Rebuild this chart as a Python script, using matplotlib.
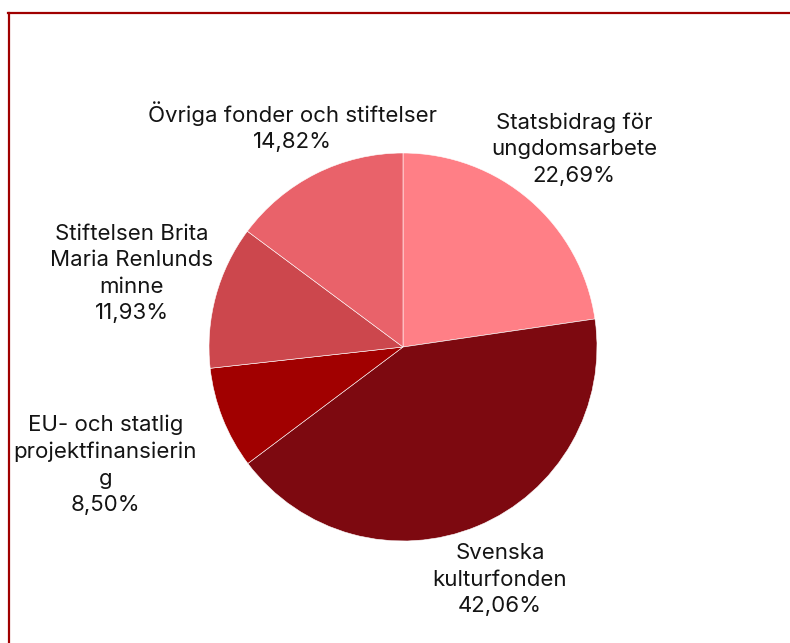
import matplotlib
matplotlib.use("Agg")
import numpy as np
import matplotlib.pyplot as plt
from matplotlib.lines import Line2D

plt.rcParams['font.family'] = ['Inter', 'DejaVu Sans']

# data
labels = ['Statsbidrag för\nungdomsarbete', 'Svenska\nkulturfonden',
          'EU- och statlig\nprojektfinansierin\ng', 'Stiftelsen Brita\nMaria Renlunds\nminne',
          'Övriga fonder och stiftelser']
values = [22.69, 42.06, 8.50, 11.93, 14.82]
colors = ['#FF7F86', '#7D0910', '#A10000', '#CC474D', '#E9626A']

# label distance from centre (in radii), per slice
label_dist = [1.35, 1.30, 1.65, 1.45, 1.27]

W, H = 790, 643
fig = plt.figure(figsize=(W / 100, H / 100), dpi=100)
cx, cy, r = 403, 347, 194
ax = fig.add_axes([(cx - r) / W, (H - cy - r) / H, 2 * r / W, 2 * r / H])

wedges, _ = ax.pie(values, colors=colors, startangle=90, counterclock=False,
                   radius=1, wedgeprops=dict(edgecolor='white', linewidth=0.4))
ax.set_xlim(-1, 1)
ax.set_ylim(-1, 1)
ax.set_aspect('equal')
ax.axis('off')

total = sum(values)
for w, lab, v, d in zip(wedges, labels, values, label_dist):
    ang = np.deg2rad((w.theta1 + w.theta2) / 2)
    pct = f'{v / total * 100:.2f}%'.replace('.', ',')
    ax.text(d * np.cos(ang), d * np.sin(ang), f'{lab}\n{pct}', ha='center', va='center',
            fontsize=16, color='#141414', linespacing=1.4)

# border (top and left)
bc = '#A00000'
fig.add_artist(Line2D([8 / W, 1], [1 - 12.5 / H] * 2, color=bc, lw=1.6, transform=fig.transFigure))
fig.add_artist(Line2D([9 / W] * 2, [0, 1 - 12.5 / H], color=bc, lw=1.6, transform=fig.transFigure))

fig.savefig('out.png', dpi=100, facecolor='white')
